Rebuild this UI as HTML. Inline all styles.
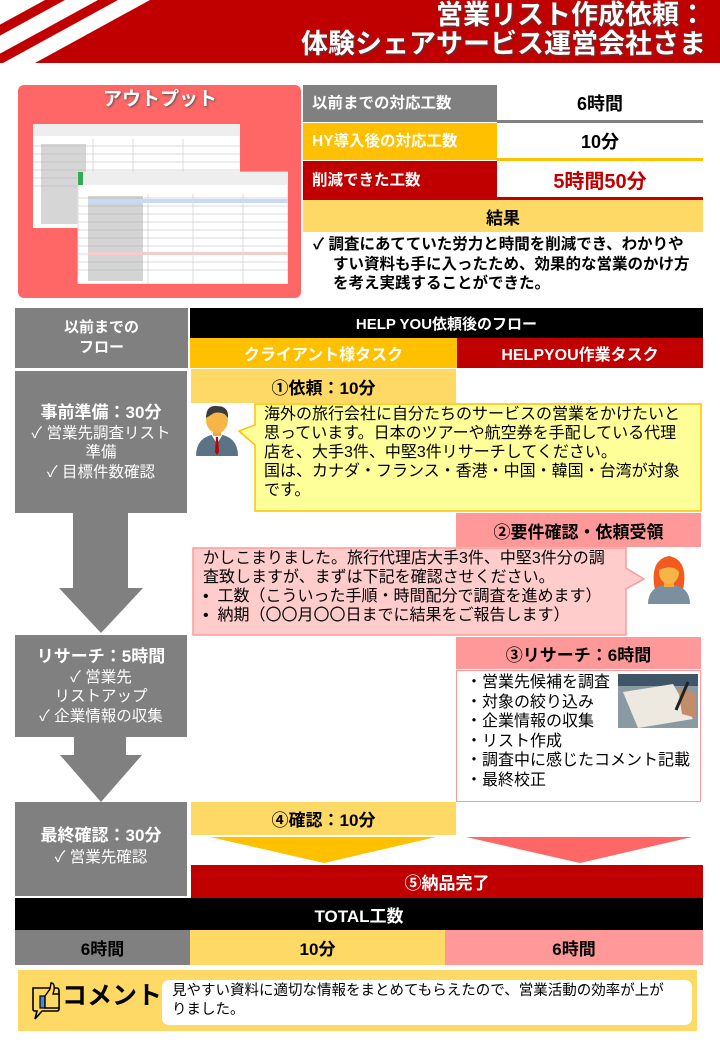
<!DOCTYPE html>
<html><head><meta charset="utf-8">
<style>
*{margin:0;padding:0;box-sizing:border-box}
body{width:720px;height:1040px;background:#fff;position:relative;overflow:hidden;font-family:"Liberation Sans","Noto Sans CJK JP",sans-serif;color:#000}
.a{position:absolute}
.c{display:flex;align-items:center;justify-content:center;text-align:center}
.b{font-weight:bold}
.w{color:#fff}
</style></head><body>
<svg class="a" style="left:0;top:0" width="720" height="64">
<polygon points="150,0 720,0 720,63 35,63" fill="#C00000"/>
<polygon points="45,0 65,0 -50,63 -70,63" fill="#C00000"/>
<polygon points="98,0 118,0 3,63 -17,63" fill="#C00000"/>
</svg>
<div class="a b w" style="right:14px;top:1px;font-size:27px;line-height:29px;text-align:right;text-shadow:1px 1px 2px #444">営業リスト作成依頼：<br>体験シェアサービス運営会社さま</div>

<!-- output box -->
<div class="a" style="left:18px;top:85px;width:283px;height:213px;background:#FF6666;border-radius:6px"></div>
<div class="a b w c" style="left:70px;top:84px;width:180px;height:26px;font-size:19px;text-shadow:1px 1px 2px #555">アウトプット</div>
<svg class="a" style="left:33px;top:124px" width="255" height="160">
<rect x="0" y="0" width="207" height="104" fill="#fff"/>
<rect x="0" y="0" width="207" height="12" fill="#eee"/>
<g stroke="#ccc" stroke-width="0.7">
<line x1="0" y1="22" x2="207" y2="22"/><line x1="0" y1="30" x2="207" y2="30"/><line x1="0" y1="38" x2="207" y2="38"/><line x1="0" y1="46" x2="207" y2="46"/><line x1="0" y1="54" x2="207" y2="54"/><line x1="0" y1="62" x2="207" y2="62"/><line x1="60" y1="15" x2="60" y2="104"/><line x1="100" y1="15" x2="100" y2="104"/><line x1="150" y1="15" x2="150" y2="104"/></g>
<rect x="8" y="20" width="45" height="80" fill="#bbb" opacity="0.6"/>
<rect x="45" y="48" width="210" height="112" fill="#fff" stroke="#ddd"/>
<rect x="45" y="48" width="210" height="13" fill="#eee"/>
<rect x="45" y="48" width="5" height="13" fill="#34a853"/>
<g stroke="#ccc" stroke-width="0.7">
<line x1="45" y1="74" x2="255" y2="74"/><line x1="45" y1="82" x2="255" y2="82"/><line x1="45" y1="90" x2="255" y2="90"/><line x1="45" y1="98" x2="255" y2="98"/><line x1="45" y1="106" x2="255" y2="106"/><line x1="45" y1="114" x2="255" y2="114"/><line x1="45" y1="122" x2="255" y2="122"/><line x1="45" y1="130" x2="255" y2="130"/><line x1="45" y1="138" x2="255" y2="138"/><line x1="45" y1="146" x2="255" y2="146"/><line x1="115" y1="70" x2="115" y2="160"/><line x1="160" y1="70" x2="160" y2="160"/><line x1="210" y1="70" x2="210" y2="160"/></g>
<rect x="55" y="72" width="55" height="85" fill="#aaa" opacity="0.5"/>
<rect x="55" y="75" width="200" height="4" fill="#c9daf8"/>
<rect x="55" y="128" width="200" height="3" fill="#f4cccc"/>
</svg>

<!-- table -->
<div class="a b w" style="left:303px;top:85px;width:194px;height:37px;background:#808080;font-size:15.5px;line-height:37px;padding-left:9px">以前までの対応工数</div>
<div class="a b c" style="left:497px;top:85px;width:206px;height:35px;font-size:18px">6時間</div>
<div class="a" style="left:497px;top:120px;width:206px;height:3px;background:#808080"></div>
<div class="a b w" style="left:303px;top:123px;width:194px;height:37px;background:#FFC000;font-size:15.5px;line-height:37px;padding-left:9px">HY導入後の対応工数</div>
<div class="a b c" style="left:497px;top:123px;width:206px;height:35px;font-size:18px">10分</div>
<div class="a" style="left:497px;top:158px;width:206px;height:3px;background:#FFC000"></div>
<div class="a b w" style="left:303px;top:161px;width:194px;height:39px;background:#C00000;font-size:15.5px;line-height:39px;padding-left:9px">削減できた工数</div>
<div class="a b c" style="left:497px;top:161px;width:206px;height:36px;font-size:20px;color:#C00000">5時間50分</div>
<div class="a" style="left:497px;top:197px;width:206px;height:3px;background:#C00000"></div>
<div class="a b c" style="left:303px;top:200px;width:400px;height:32px;background:#FFD966;font-size:17px">結果</div>
<div class="a b" style="left:313px;top:235px;width:378px;font-size:15.5px;line-height:19.5px;padding-left:20px;text-indent:-20px">✓ 調査にあてていた労力と時間を削減でき、わかりやすい資料も手に入ったため、効果的な営業のかけ方を考え実践することができた。</div>

<!-- flow header -->
<div class="a b w c" style="left:15px;top:308px;width:173px;height:60px;background:#808080;font-size:15px;line-height:20px">以前までの<br>フロー</div>
<div class="a b w c" style="left:190px;top:308px;width:513px;height:30px;background:#000;font-size:15px">HELP YOU依頼後のフロー</div>
<div class="a b w c" style="left:190px;top:338px;width:267px;height:30px;background:#FFC000;font-size:16px">クライアント様タスク</div>
<div class="a b w c" style="left:457px;top:338px;width:246px;height:30px;background:#C00000;font-size:16px">HELPYOU作業タスク</div>

<!-- left gray flow -->
<div class="a w c" style="left:15px;top:371px;width:172px;height:142px;background:#808080;font-size:15.5px;line-height:19.5px;flex-direction:column"><span class="b" style="font-size:17px;line-height:22px">事前準備：30分</span>✓ 営業先調査リスト<br>準備<br>✓ 目標件数確認</div>
<svg class="a" style="left:0;top:513px" width="190" height="300">
<polygon points="73,0 128,0 128,75 143,75 101,120 59,75 73,75" fill="#808080"/>
<polygon points="74,224 126,224 126,242 142,242 101,289 60,242 74,242" fill="#808080"/>
</svg>
<div class="a w c" style="left:15px;top:635px;width:172px;height:102px;background:#808080;font-size:15.5px;line-height:19.5px;flex-direction:column"><span class="b" style="font-size:17px;line-height:22px">リサーチ：5時間</span>✓ 営業先<br>リストアップ<br>✓ 企業情報の収集</div>
<div class="a w c" style="left:15px;top:802px;width:172px;height:94px;background:#808080;font-size:15.5px;line-height:20px;flex-direction:column;justify-content:flex-start;padding-top:22px"><span class="b" style="font-size:17px;line-height:24px">最終確認：30分</span>✓ 営業先確認</div>

<!-- step 1 -->
<div class="a b c" style="left:191px;top:369px;width:265px;height:34px;background:#FFD966;font-size:17px">①依頼：10分</div>
<svg class="a" style="left:194px;top:404px" width="46" height="52">
<path d="M2,52 Q2,32 23,30 Q44,32 44,52 Z" fill="#5A7387"/>
<polygon points="17,30 29,30 23,40" fill="#fff"/>
<polygon points="22,33 24,33 25,48 23,51 21,48" fill="#C00000"/>
<rect x="19" y="24" width="8" height="8" fill="#F2A93B"/>
<ellipse cx="23" cy="16" rx="11" ry="13" fill="#F7B547"/>
<path d="M12,14 Q12,1 23,2 Q35,2 34,14 Q30,7 20,9 Z" fill="#3B3B3B"/>
</svg>
<svg class="a" style="left:238px;top:403px" width="466" height="110">
<path d="M17,1 L463,1 L463,108 L17,108 L17,42 L1,28 L17,22 Z" fill="#FFFF99" stroke="#FFC000" stroke-width="1.5"/>
</svg>
<div class="a" style="left:264px;top:405px;width:420px;font-size:16px;line-height:19px">海外の旅行会社に自分たちのサービスの営業をかけたいと思っています。日本のツアーや航空券を手配している代理店を、大手3件、中堅3件リサーチしてください。<br>国は、カナダ・フランス・香港・中国・韓国・台湾が対象です。</div>

<!-- step 2 -->
<div class="a b c" style="left:456px;top:513px;width:245px;height:34px;background:#FF9999;font-size:17px">②要件確認・依頼受領</div>
<svg class="a" style="left:192px;top:547px" width="454" height="90">
<path d="M1,1 L434,1 L434,21 L452,32 L434,42 L434,88 L1,88 Z" fill="#FFCCCC" stroke="#FF9999" stroke-width="1.5"/>
</svg>
<div class="a" style="left:203px;top:549px;width:405px;font-size:16px;line-height:19px">かしこまりました。旅行代理店大手3件、中堅3件分の調査致しますが、まずは下記を確認させください。<br>•&nbsp; 工数（こういった手順・時間配分で調査を進めます）<br>•&nbsp; 納期（〇〇月〇〇日までに結果をご報告します）</div>
<svg class="a" style="left:645px;top:550px" width="48" height="54">
<path d="M10,40 Q4,10 24,6 Q44,10 38,40 Z" fill="#F25A1F"/>
<path d="M3,54 Q3,36 24,34 Q45,36 45,54 Z" fill="#7A909E"/>
<rect x="19" y="28" width="10" height="9" fill="#F2A93B"/>
<ellipse cx="24" cy="22" rx="10" ry="12" fill="#F7B547"/>
<path d="M14,20 Q15,8 26,9 Q34,12 34,22 Q28,14 14,20 Z" fill="#F25A1F"/>
</svg>

<!-- step 3 -->
<div class="a b c" style="left:456px;top:637px;width:245px;height:32px;background:#FF9999;font-size:17px">③リサーチ：6時間</div>
<div class="a" style="left:456px;top:670px;width:245px;height:132px;border:1px solid #FF9999;background:#fff"></div>
<div class="a" style="left:466px;top:673px;font-size:16px;line-height:19.5px">・営業先候補を調査<br>・対象の絞り込み<br>・企業情報の収集<br>・リスト作成<br>・調査中に感じたコメント記載<br>・最終校正</div>
<svg class="a" style="left:618px;top:674px" width="80" height="54">
<rect width="80" height="54" fill="#8A9AA3"/>
<rect x="0" y="0" width="80" height="12" fill="#3E5668"/>
<polygon points="5,18 55,10 75,45 20,54" fill="#EDE9E1"/>
<path d="M60,14 L78,20 L78,44 L64,40 Z" fill="#C58C6A"/>
<line x1="70" y1="8" x2="58" y2="36" stroke="#222" stroke-width="3"/>
</svg>

<!-- step 4 -->
<div class="a b c" style="left:191px;top:802px;width:265px;height:33px;background:#FFD966;font-size:17px">④確認：10分</div>
<svg class="a" style="left:190px;top:835px" width="513" height="32">
<polygon points="20,2 246,2 134,28" fill="#FFC000"/>
<polygon points="276,2 502,2 390,28" fill="#FF6666"/>
</svg>
<div class="a b w c" style="left:191px;top:865px;width:512px;height:33px;background:#C00000;font-size:17px">⑤納品完了</div>
<div class="a b w c" style="left:15px;top:898px;width:688px;height:32px;background:#000;font-size:17px">TOTAL工数</div>
<div class="a b c" style="left:15px;top:930px;width:175px;height:35px;background:#808080;font-size:17px">6時間</div>
<div class="a b c" style="left:190px;top:930px;width:255px;height:35px;background:#FFD966;font-size:17px">10分</div>
<div class="a b c" style="left:445px;top:930px;width:258px;height:35px;background:#FF9999;font-size:17px">6時間</div>

<!-- comment -->
<div class="a" style="left:18px;top:970px;width:679px;height:61px;background:#FFD966"></div>
<svg class="a" style="left:30px;top:982px" width="32" height="40">
<path d="M3,6 L27,6 Q29,6 29,9 L29,27 Q29,29 27,29 L12,29 L5,37 L7,29 L5,29 Q3,29 3,27 Z" fill="none" stroke="#000" stroke-width="1.6"/>
<rect x="10" y="14" width="5" height="12" fill="#3C8DDE" stroke="#000" stroke-width="1.2"/>
<path d="M15,14 L20,7 L21,1 Q25,1 24,8 L23,12 L29,12 L29,26 L15,26 Z" fill="#FFD966" stroke="#000" stroke-width="1.4"/>
</svg>
<div class="a b" style="left:62px;top:981px;font-size:25px;line-height:30px">コメント</div>
<div class="a" style="left:162px;top:980px;width:530px;height:45px;background:#fff;border-radius:7px"></div>
<div class="a" style="left:172px;top:982px;width:500px;font-size:14.5px;line-height:19px">見やすい資料に適切な情報をまとめてもらえたので、営業活動の効率が上がりました。</div>
</body></html>
